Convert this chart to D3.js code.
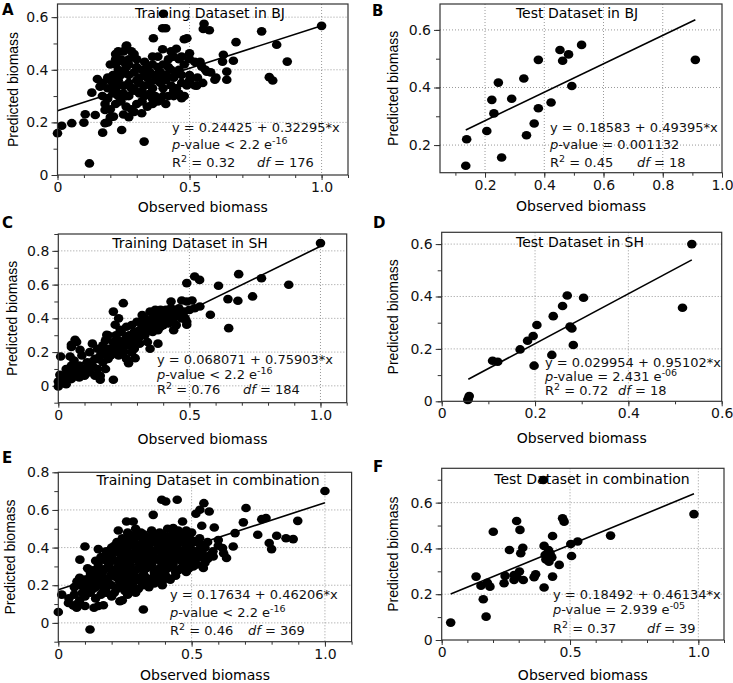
<!DOCTYPE html>
<html lang="en">
<head>
<meta charset="UTF-8" />
<title>Observed vs predicted biomass</title>
<script src="https://d3js.org/d3.v7.min.js"></script>
<style>
  body { margin: 0; background: #fff; }
</style>
</head>
<body>
<svg id="fig" width="733" height="683"></svg>
<script>
// ---- data: [observed, predicted] ----
const trainBJ = [
  [0,0.159],[0.016,0.187],[0.054,0.197],[0.1,0.199],[0.105,0.231],[0.121,0.044],[0.13,0.313],[0.143,0.228],
  [0.151,0.365],[0.161,0.336],[0.171,0.161],[0.18,0.197],[0.18,0.247],[0.212,0.222],[0.243,0.171],[0.319,0.235],
  [0.328,0.127],[0.363,0.52],[0.401,0.613],[0.398,0.558],[0.41,0.558],[0.398,0.478],[0.48,0.516],[0.49,0.52],
  [0.5,0.463],[0.555,0.575],[0.552,0.555],[0.575,0.55],[0.47,0.292],[0.527,0.339],[0.546,0.412],[0.565,0.393],
  [0.596,0.362],[0.628,0.457],[0.625,0.431],[0.641,0.393],[0.641,0.362],[0.666,0.434],[0.676,0.505],[0.773,0.546],
  [0.802,0.372],[0.815,0.359],[0.83,0.495],[0.87,0.431],[1.0,0.567],[0.262,0.492],[0.2,0.42],[0.22,0.46],
  [0.23,0.47],[0.25,0.47],[0.26,0.49],[0.28,0.47],[0.29,0.46],[0.24,0.44],[0.22,0.44],
  [0.22,0.42],[0.25,0.43],[0.27,0.42],[0.3,0.41],[0.32,0.4],[0.34,0.41],[0.36,0.42],[0.38,0.41],[0.4,0.42],
  [0.42,0.44],[0.44,0.45],[0.46,0.44],[0.45,0.48],[0.43,0.47],[0.47,0.45],[0.5,0.44],[0.52,0.43],[0.54,0.43],
  [0.38,0.45],[0.36,0.45],
  [0.19,0.37],[0.21,0.38],[0.23,0.4],[0.25,0.39],[0.27,0.38],[0.29,0.39],[0.31,0.37],[0.33,0.38],[0.35,0.39],
  [0.37,0.38],[0.39,0.39],[0.41,0.38],[0.43,0.4],[0.45,0.39],[0.47,0.38],[0.5,0.38],[0.53,0.37],[0.56,0.4],
  [0.58,0.39],[0.6,0.37],
  [0.17,0.35],[0.19,0.33],[0.21,0.34],[0.23,0.36],[0.25,0.34],[0.27,0.35],[0.29,0.33],[0.31,0.35],[0.33,0.34],
  [0.35,0.35],[0.37,0.36],[0.39,0.35],[0.41,0.36],[0.43,0.34],[0.45,0.33],[0.47,0.35],[0.49,0.34],[0.52,0.34],
  [0.55,0.35],
  [0.17,0.3],[0.19,0.29],[0.21,0.31],[0.23,0.3],[0.25,0.31],[0.27,0.3],[0.29,0.32],[0.31,0.31],[0.33,0.3],
  [0.35,0.31],[0.37,0.3],[0.39,0.29],[0.42,0.3],[0.44,0.3],[0.46,0.31],[0.48,0.3],
  [0.18,0.27],[0.2,0.25],[0.22,0.27],[0.24,0.28],[0.26,0.26],[0.28,0.25],[0.3,0.27],[0.32,0.28],[0.34,0.26],
  [0.36,0.27],[0.38,0.28],[0.41,0.27],[0.27,0.22],[0.29,0.24],[0.25,0.23],[0.2,0.22],[0.19,0.2],
  [0.2,0.36],[0.22,0.32],[0.24,0.38],[0.26,0.41],[0.28,0.33],[0.3,0.36],[0.32,0.32],[0.34,0.37],[0.36,0.33],
  [0.38,0.37],[0.4,0.33],[0.42,0.41],[0.44,0.37],[0.46,0.4],[0.48,0.42],[0.3,0.44],[0.33,0.43],[0.26,0.3],
  [0.36,0.29],[0.4,0.3],[0.44,0.32],[0.5,0.36],[0.23,0.34],[0.27,0.44]
];

const testBJ = [
  [0.135,0.128],[0.138,0.22],[0.206,0.249],[0.223,0.357],[0.23,0.31],[0.245,0.417],[0.256,0.157],[0.29,0.361],
  [0.331,0.431],[0.34,0.234],[0.38,0.496],[0.366,0.275],[0.38,0.328],[0.423,0.348],[0.453,0.53],[0.462,0.493],
  [0.482,0.515],[0.493,0.405],[0.526,0.548],[0.91,0.496]
];

const trainSH = [
  [0,-0.004],[0,0.026],[0.009,0.174],[0.006,0.065],[0.045,0.174],[0.05,0.243],[0.064,0.273],[0.083,0.213],
  [1.0,0.846],[0.688,0.662],[0.685,0.504],[0.647,0.514],[0.65,0.342],[0.611,0.593],[0.58,0.421],[0.52,0.648],
  [0.539,0.628],[0.49,0.609],[0.741,0.53],[0.775,0.638],[0.879,0.599],[0.471,0.506],[0.51,0.506],[0.49,0.362],
  [0.484,0.401],[0.248,0.49],[0.21,0.44],[0.217,0.362],[0.236,0.332],[0.21,0.036],[0.16,0.036],[0.268,0.134],
  [0.293,0.164],[0.185,0.302],[0.52,0.46],[0.54,0.47],[0.43,0.5],
  [0.01,0.03],[0.02,0.06],[0.03,0.01],[0.04,0.05],[0.04,0.09],[0.05,0.12],[0.06,0.07],[0.06,0.15],[0.07,0.1],
  [0.07,0.26],[0.08,0.05],[0.08,0.12],[0.09,0.18],[0.1,0.1],[0.1,0.06],[0.05,0.23],[0.03,0.1],[0.02,0.02],
  [0.11,0.14],[0.12,0.08],[0.12,0.2],[0.13,0.12],[0.13,0.25],[0.14,0.16],[0.14,0.06],[0.15,0.22],[0.15,0.1],
  [0.16,0.18],[0.16,0.06],[0.17,0.24],[0.17,0.14],[0.18,0.2],[0.18,0.27],[0.19,0.16],[0.19,0.3],[0.2,0.22],
  [0.2,0.18],[0.18,0.1],
  [0.21,0.26],[0.21,0.2],[0.22,0.24],[0.22,0.3],[0.23,0.18],[0.23,0.27],[0.24,0.22],[0.24,0.32],[0.25,0.26],
  [0.25,0.2],[0.26,0.29],[0.26,0.35],[0.27,0.24],[0.27,0.3],[0.28,0.27],[0.28,0.36],[0.29,0.22],[0.29,0.32],
  [0.3,0.28],[0.3,0.38],[0.26,0.16],[0.28,0.2],[0.23,0.4],
  [0.31,0.33],[0.31,0.25],[0.32,0.36],[0.32,0.42],[0.33,0.3],[0.33,0.4],[0.34,0.35],[0.34,0.26],[0.35,0.38],
  [0.35,0.44],[0.36,0.32],[0.36,0.4],[0.37,0.36],[0.37,0.45],[0.38,0.33],[0.38,0.42],[0.39,0.38],[0.39,0.45],
  [0.4,0.36],[0.4,0.42],[0.35,0.22],[0.38,0.25],
  [0.41,0.4],[0.41,0.45],[0.42,0.37],[0.43,0.42],[0.43,0.46],[0.44,0.4],[0.45,0.44],[0.45,0.36],[0.46,0.42],
  [0.46,0.46],[0.47,0.4],[0.48,0.44],[0.49,0.38],[0.5,0.45],[0.49,0.5],[0.44,0.33],
  [0.15,0.16],[0.17,0.19],[0.19,0.22],[0.21,0.23],[0.23,0.25],[0.25,0.23],[0.27,0.27],[0.29,0.26],[0.31,0.29],
  [0.33,0.34],[0.35,0.33],[0.37,0.4],[0.39,0.35],[0.41,0.38],[0.43,0.38],[0.29,0.29],[0.32,0.39],[0.26,0.25],
  [0.22,0.21],[0.12,0.13],[0.09,0.08],[0.05,0.04]
];

const testSH = [
  [0.056,0.005],[0.057,0.011],[0.059,0.02],[0.109,0.155],[0.12,0.151],[0.168,0.198],[0.184,0.231],[0.196,0.249],
  [0.198,0.136],[0.204,0.291],[0.236,0.177],[0.239,0.325],[0.259,0.364],[0.269,0.404],[0.275,0.285],[0.279,0.278],
  [0.282,0.215],[0.304,0.395],[0.516,0.357],[0.536,0.6]
];

const trainAll = [
  [0,0.058],[0.013,0.15],[0.038,0.106],[0.056,0.092],[0.069,0.08],[0.1,0.406],[0.081,0.336],[0.119,-0.035],
  [0.134,0.08],[0.15,0.392],[0.169,0.094],[0.175,0.345],[0.231,0.115],[0.225,0.491],[0.256,0.539],[0.281,0.539],
  [0.319,0.071],[0.356,0.574],[0.388,0.654],[0.403,0.645],[0.446,0.654],[0.466,0.539],[0.431,0.504],[0.488,0.456],
  [0.516,0.58],[0.546,0.636],[0.566,0.592],[0.531,0.601],[0.585,0.507],[0.538,0.516],[0.616,0.398],[0.631,0.345],
  [0.656,0.406],[0.663,0.477],[0.694,0.534],[0.704,0.61],[0.748,0.468],[0.763,0.551],[0.779,0.557],[0.791,0.424],
  [0.8,0.392],[0.819,0.463],[0.854,0.45],[0.881,0.445],[0.898,0.542],[1.0,0.701],[0.581,0.353],[0.544,0.292],
  [0.506,0.3],[0.6,0.44],[0.62,0.37],
  [0.04,0.13],[0.06,0.15],[0.08,0.12],[0.1,0.14],[0.12,0.16],[0.14,0.13],[0.16,0.15],[0.18,0.16],[0.2,0.14],
  [0.24,0.12],[0.26,0.15],[0.07,0.1],[0.1,0.09],[0.15,0.09],
  [0.06,0.19],[0.08,0.2],[0.1,0.18],[0.12,0.2],[0.14,0.19],[0.16,0.21],[0.18,0.19],[0.2,0.2],[0.22,0.18],
  [0.24,0.21],[0.26,0.19],[0.28,0.2],[0.3,0.18],[0.32,0.2],[0.34,0.19],[0.36,0.21],[0.39,0.2],
  [0.08,0.24],[0.1,0.23],[0.12,0.25],[0.14,0.22],[0.16,0.26],[0.18,0.23],[0.2,0.25],[0.22,0.24],[0.24,0.26],
  [0.26,0.23],[0.28,0.25],[0.3,0.24],[0.32,0.26],[0.34,0.23],[0.36,0.25],[0.38,0.24],[0.4,0.26],[0.42,0.23],
  [0.44,0.25],
  [0.11,0.29],[0.13,0.28],[0.15,0.3],[0.17,0.28],[0.19,0.3],[0.21,0.28],[0.23,0.3],[0.25,0.29],[0.27,0.31],
  [0.29,0.28],[0.31,0.3],[0.33,0.29],[0.35,0.31],[0.37,0.28],[0.39,0.3],[0.41,0.29],[0.43,0.31],[0.45,0.28],
  [0.47,0.3],[0.49,0.29],[0.52,0.31],
  [0.14,0.33],[0.16,0.35],[0.18,0.33],[0.2,0.35],[0.22,0.33],[0.24,0.36],[0.26,0.34],[0.28,0.35],[0.3,0.33],
  [0.32,0.36],[0.34,0.34],[0.36,0.35],[0.38,0.33],[0.4,0.36],[0.42,0.34],[0.44,0.35],[0.46,0.33],[0.48,0.36],
  [0.5,0.34],[0.53,0.35],[0.56,0.34],
  [0.18,0.38],[0.2,0.4],[0.22,0.38],[0.24,0.4],[0.26,0.38],[0.28,0.41],[0.3,0.39],[0.32,0.38],[0.34,0.4],
  [0.36,0.38],[0.38,0.41],[0.4,0.39],[0.42,0.38],[0.44,0.4],[0.46,0.38],[0.48,0.41],[0.5,0.39],[0.52,0.38],
  [0.55,0.4],[0.58,0.38],
  [0.22,0.43],[0.24,0.45],[0.26,0.43],[0.28,0.44],[0.3,0.46],[0.32,0.43],[0.34,0.45],[0.36,0.44],[0.38,0.46],
  [0.4,0.43],[0.42,0.45],[0.44,0.44],[0.46,0.46],[0.5,0.44],[0.53,0.45],[0.56,0.43],
  [0.26,0.48],[0.29,0.5],[0.32,0.47],[0.35,0.49],[0.38,0.48],[0.41,0.5],[0.44,0.47],[0.48,0.49],[0.5,0.48],
  [0.09,0.16],[0.13,0.18],[0.17,0.17],[0.21,0.16],[0.25,0.17],[0.29,0.16],
  [0.07,0.22],[0.11,0.21],[0.15,0.24],[0.19,0.21],[0.23,0.22],[0.27,0.21],[0.31,0.22],[0.35,0.23],[0.39,0.22],
  [0.12,0.27],[0.16,0.27],[0.2,0.26],[0.24,0.27],[0.28,0.27],[0.32,0.28],[0.36,0.27],[0.4,0.28],[0.44,0.27],
  [0.48,0.27],
  [0.15,0.32],[0.19,0.32],[0.23,0.32],[0.27,0.33],[0.31,0.32],[0.35,0.33],[0.39,0.32],[0.43,0.32],[0.47,0.32],
  [0.51,0.32],[0.55,0.32],
  [0.19,0.36],[0.23,0.37],[0.27,0.36],[0.31,0.37],[0.35,0.36],[0.39,0.37],[0.43,0.36],[0.47,0.37],[0.51,0.36],
  [0.54,0.37],[0.57,0.36],
  [0.21,0.41],[0.25,0.41],[0.29,0.42],[0.33,0.41],[0.37,0.42],[0.41,0.41],[0.45,0.42],[0.49,0.42],[0.53,0.42],
  [0.6,0.41],
  [0.27,0.46],[0.31,0.48],[0.35,0.46],[0.39,0.47],[0.43,0.49],[0.47,0.46],
  [0.17,0.24],[0.21,0.25],[0.25,0.25],[0.29,0.23],[0.33,0.24],[0.37,0.26],[0.41,0.24],
  [0.18,0.29],[0.22,0.29],[0.26,0.28],[0.3,0.29],[0.34,0.3],[0.38,0.29],[0.42,0.3],[0.46,0.29],
  [0.17,0.34],[0.21,0.33],[0.25,0.33],[0.29,0.34],[0.33,0.33],[0.37,0.34],[0.41,0.33],[0.45,0.34],[0.49,0.33],
  [0.21,0.38],[0.25,0.39],[0.29,0.38],[0.33,0.39],[0.37,0.39],[0.41,0.38],[0.45,0.39],[0.49,0.39],[0.53,0.39],
  [0.23,0.42],[0.27,0.43],[0.31,0.42],[0.35,0.43],[0.39,0.43],[0.43,0.42],[0.47,0.43],[0.51,0.43],
  [0.29,0.47],[0.33,0.45],[0.37,0.47],[0.41,0.46],[0.45,0.49],
  [0.11,0.23],[0.13,0.26],[0.09,0.2],[0.13,0.22],[0.17,0.2],[0.23,0.19],[0.27,0.18]
];

const testAll = [
  [0.035,0.076],[0.134,0.277],[0.153,0.237],[0.162,0.178],[0.173,0.102],[0.178,0.25],[0.188,0.233],[0.201,0.473],
  [0.243,0.248],[0.247,0.28],[0.264,0.393],[0.282,0.284],[0.282,0.262],[0.292,0.52],[0.303,0.299],[0.305,0.481],
  [0.308,0.379],[0.316,0.403],[0.318,0.262],[0.36,0.274],[0.366,0.287],[0.396,0.699],[0.399,0.229],[0.399,0.411],
  [0.403,0.371],[0.406,0.352],[0.416,0.393],[0.422,0.379],[0.429,0.361],[0.432,0.277],[0.432,0.454],[0.458,0.328],
  [0.471,0.532],[0.477,0.517],[0.503,0.419],[0.506,0.367],[0.53,0.43],[0.658,0.456],[0.983,0.55],[0.418,0.342],
  [0.292,0.277]
];

// panel texts
const letters = ["A", "B", "C", "D", "E", "F"];
const titles = ["Training Dataset in BJ", "Test Dataset in BJ", "Training Dataset in SH",
                "Test Dataset in SH", "Training Dataset in combination", "Test Dataset in combination"];
const intercepts = ["0.24425", "0.18583", "0.068071", "0.029954", "0.17634", "0.18492"];
const slopes = ["0.32295", "0.49395", "0.75903", "0.95102", "0.46206", "0.46134"];
const fitRanges = [[0, 1.0], [0.135, 0.91], [0, 1.0], [0.057, 0.536], [0, 1.0], [0.035, 0.983]];
const pRel = ["<", "=", "<", "=", "<", "="];
const pValues = ["2.2 e", "0.001132", "2.2 e", "2.431 e", "2.2 e", "2.939 e"];
const pExps = ["-16", "", "-16", "-06", "-16", "-05"];
const r2Values = ["0.32", "0.45", "0.76", "0.72", "0.46", "0.37"];
const dfValues = ["176", "18", "184", "18", "369", "39"];
const xMajorTicks = [[0, 0.5, 1.0], [0.2, 0.4, 0.6, 0.8, 1.0], [0, 0.5, 1.0], [0, 0.2, 0.4, 0.6], [0, 0.5, 1.0], [0, 0.5, 1.0]];
const yMajorTicks = [[0, 0.2, 0.4, 0.6], [0.2, 0.4, 0.6], [0, 0.2, 0.4, 0.6, 0.8], [0, 0.2, 0.4, 0.6], [0, 0.2, 0.4, 0.6, 0.8], [0, 0.2, 0.4, 0.6]];
const pointSets = [trainBJ, testBJ, trainSH, testSH, trainAll, testAll];

// ---- layout (pixels) ----
const layout = [
  { box: [57.5, 348, 4, 175],       xDom: [0, 1.1],     yDom: [0, 0.65],     title: [210, 18],  eq: [172, 132, 149, 167], df: 257, letter: [2, 15],   xt: 212, yt: 18 },
  { box: [440, 722, 4, 172.7],      xDom: [0.048, 1.0], yDom: [0.104, 0.69], title: [577, 18],  eq: [550, 132, 149, 167], df: 637, letter: [372, 16], xt: 211, yt: 398 },
  { box: [58.3, 346.7, 234, 402.7], xDom: [0, 1.1],     yDom: [-0.1, 0.9],   title: [190, 248], eq: [157, 364, 379, 394], df: 243, letter: [2, 228],  xt: 444, yt: 17 },
  { box: [441.7, 721.7, 232.3, 401.3], xDom: [0, 0.6],  yDom: [0, 0.645],    title: [580, 247], eq: [545, 367, 381, 395], df: 618, letter: [373, 228], xt: 443, yt: 398 },
  { box: [58.3, 351.6, 472.3, 641.7], xDom: [0, 1.1],   yDom: [-0.1, 0.8],   title: [208, 485], eq: [170, 599, 617, 635], df: 248, letter: [2, 463],  xt: 680, yt: 15 },
  { box: [441.7, 724, 468.3, 640],  xDom: [0, 1.1],     yDom: [0, 0.75],     title: [592, 484], eq: [553, 599, 614, 633], df: 647, letter: [373, 472], xt: 680, yt: 398 }
];

const svg = d3.select("#fig");
const sansH = "DejaVu Sans, sans-serif";
const sansV = "Liberation Sans, Arial, sans-serif";
const fmt = v => (v === 0 ? "0" : d3.format(".1f")(v));

function minorTicks(dom) {
  const a = Math.ceil(dom[0] * 10 - 1e-6), b = Math.floor(dom[1] * 10 + 1e-6);
  return d3.range(a, b + 1).map(i => i / 10);
}

layout.forEach((L, i) => {
  const [left, right, top, bottom] = L.box;
  const x = d3.scaleLinear().domain(L.xDom).range([left, right]);
  const y = d3.scaleLinear().domain(L.yDom).range([bottom, top]);
  const g = svg.append("g");

  // dotted grid at the major ticks
  g.selectAll(".gx")
    .data(xMajorTicks[i].filter(v => x(v) > left + 1 && x(v) < right - 1))
    .join("line")
    .attr("x1", d => x(d)).attr("x2", d => x(d))
    .attr("y1", top).attr("y2", bottom)
    .attr("stroke", "#999").attr("stroke-width", 1).attr("stroke-dasharray", "1,2");
  g.selectAll(".gy")
    .data(yMajorTicks[i].filter(v => y(v) < bottom - 1 && y(v) > top + 1))
    .join("line")
    .attr("x1", left).attr("x2", right)
    .attr("y1", d => y(d)).attr("y2", d => y(d))
    .attr("stroke", "#999").attr("stroke-width", 1).attr("stroke-dasharray", "1,2");

  // axes: minor then major ticks
  const xMinor = g.append("g").attr("transform", `translate(0,${bottom})`)
    .call(d3.axisBottom(x).tickValues(minorTicks(L.xDom)).tickSize(3).tickFormat(""));
  const xMajor = g.append("g").attr("transform", `translate(0,${bottom})`)
    .call(d3.axisBottom(x).tickValues(xMajorTicks[i]).tickSize(5).tickPadding(2).tickFormat(fmt));
  const yMinor = g.append("g").attr("transform", `translate(${left},0)`)
    .call(d3.axisLeft(y).tickValues(minorTicks(L.yDom)).tickSize(4).tickFormat(""));
  const yMajor = g.append("g").attr("transform", `translate(${left},0)`)
    .call(d3.axisLeft(y).tickValues(yMajorTicks[i]).tickSize(6).tickPadding(3).tickFormat(fmt));
  [xMinor, xMajor, yMinor, yMajor].forEach(a => {
    a.select(".domain").remove();
    a.selectAll(".tick line").attr("stroke", "#333");
    a.selectAll("text").attr("font-family", sansH).attr("font-size", 14).attr("fill", "#111");
  });

  // panel title and statistics
  g.append("text").attr("x", L.title[0]).attr("y", L.title[1])
    .attr("text-anchor", "middle").attr("font-family", sansH).attr("font-size", 14)
    .text(titles[i]);

  const eq = g.append("g").attr("font-family", sansH).attr("font-size", 13).attr("fill", "#111");
  eq.append("text").attr("x", L.eq[0]).attr("y", L.eq[1])
    .text(`y = ${intercepts[i]} + ${slopes[i]}*x`);
  const pt = eq.append("text").attr("x", L.eq[0]).attr("y", L.eq[2]);
  pt.append("tspan").attr("font-style", "italic").text("p");
  pt.append("tspan").text(`-value ${pRel[i]} ${pValues[i]}`);
  if (pExps[i]) pt.append("tspan").attr("dy", -5).attr("font-size", 9.5).text(pExps[i]);
  const rt = eq.append("text").attr("x", L.eq[0]).attr("y", L.eq[3]);
  rt.append("tspan").text("R");
  rt.append("tspan").attr("dy", -5).attr("font-size", 9.5).text("2");
  rt.append("tspan").attr("dy", 5).text(` = ${r2Values[i]}`);
  const dt = eq.append("text").attr("x", L.df).attr("y", L.eq[3]);
  dt.append("tspan").attr("font-style", "italic").text("df");
  dt.append("tspan").text(` = ${dfValues[i]}`);

  // points
  g.selectAll(".pt").data(pointSets[i]).join("ellipse")
    .attr("cx", d => x(d[0])).attr("cy", d => y(d[1]))
    .attr("rx", 4.8).attr("ry", 4.3).attr("fill", "#000");

  // fitted line
  const a = +intercepts[i], b = +slopes[i];
  const line = d3.line().x(d => x(d)).y(d => y(a + b * d));
  g.append("path").datum(fitRanges[i]).attr("d", line)
    .attr("fill", "none").attr("stroke", "#000").attr("stroke-width", 1.6);

  // frame
  g.append("rect").attr("x", left).attr("y", top)
    .attr("width", right - left).attr("height", bottom - top)
    .attr("fill", "none").attr("stroke", "#333").attr("stroke-width", 1.2);

  // axis titles and panel letter
  g.append("text").attr("x", (left + right) / 2).attr("y", L.xt)
    .attr("text-anchor", "middle").attr("font-family", sansH).attr("font-size", 14)
    .text("Observed biomass");
  g.append("text")
    .attr("transform", `translate(${L.yt},${(top + bottom) / 2}) rotate(-90)`)
    .attr("text-anchor", "middle").attr("font-family", sansV).attr("font-size", 14)
    .text("Predicted biomass");
  g.append("text").attr("x", L.letter[0]).attr("y", L.letter[1])
    .attr("font-family", sansH).attr("font-weight", "bold").attr("font-size", 15)
    .text(letters[i]);
});
</script>
</body>
</html>
